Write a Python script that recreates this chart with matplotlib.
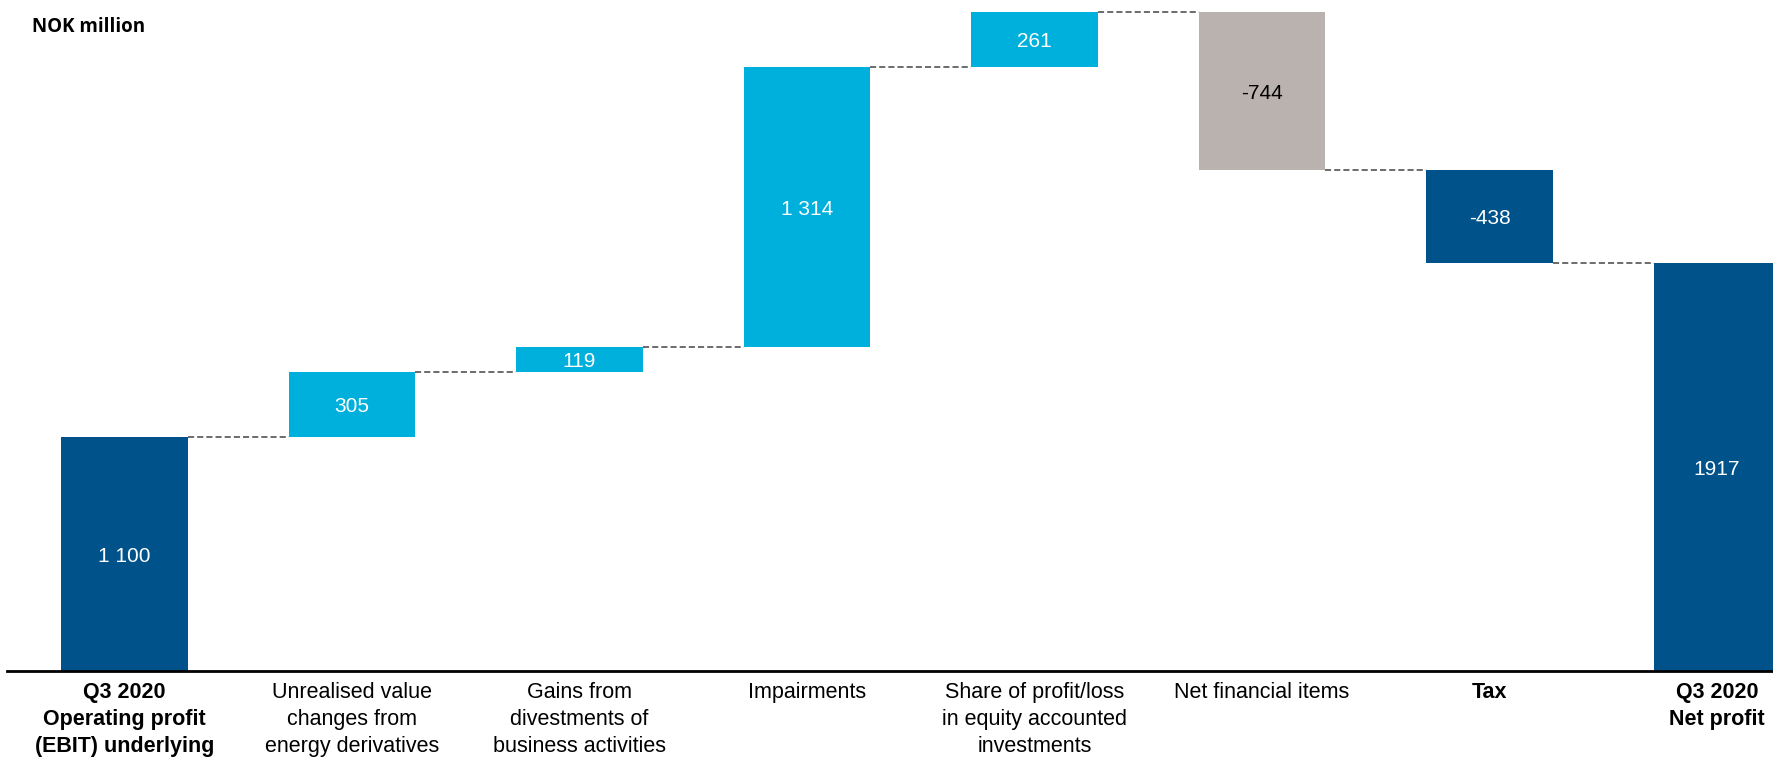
import matplotlib.pyplot as plt
import numpy as np

categories = [
    "Q3 2020\nOperating profit\n(EBIT) underlying",
    "Unrealised value\nchanges from\nenergy derivatives",
    "Gains from\ndivestments of\nbusiness activities",
    "Impairments",
    "Share of profit/loss\nin equity accounted\ninvestments",
    "Net financial items",
    "Tax",
    "Q3 2020\nNet profit",
]
values = [1100, 305, 119, 1314, 261, -744, -438, 1917]
value_labels = ["1 100", "305", "119", "1 314", "261", "-744", "-438", "1917"]
is_total = [True, False, False, False, False, False, False, True]
bold_label = [True, False, False, False, False, False, True, True]

dark_blue = "#00528A"
light_blue = "#00B0DC"
grey = "#BAB2AF"
bar_colors = [dark_blue, light_blue, light_blue, light_blue, light_blue, grey, dark_blue, dark_blue]
text_colors = ["white", "white", "white", "white", "white", "black", "white", "white"]

plt.rcParams["font.family"] = ["Liberation Sans", "DejaVu Sans"]

fig = plt.figure(figsize=(17.74, 7.6), dpi=100)
ax = fig.add_axes([7 / 1774, 89 / 760, 1 - 7 / 1774, 671 / 760])

x = np.arange(len(values))
width = 0.557

# running totals for the floating bars
bottoms = []
tops = []
running = 0
for v, tot in zip(values, is_total):
    if tot:
        bottoms.append(0)
        tops.append(v)
        running = v
    else:
        start = running
        running += v
        bottoms.append(min(start, running))
        tops.append(max(start, running))
bottoms = np.array(bottoms)
heights = np.array(tops) - bottoms

ax.bar(x, heights, bottom=bottoms, width=width, color=bar_colors, zorder=2)

# connector lines between consecutive bars
level = 0
for i, (v, tot) in enumerate(zip(values, is_total)):
    level = v if tot else level + v
    if i < len(values) - 1:
        ax.plot([x[i] + width / 2, x[i + 1] - width / 2], [level, level],
                color="#444444", lw=1.1, ls=(0, (4, 2)), zorder=1)

for i in range(len(values)):
    ax.text(x[i], bottoms[i] + heights[i] / 2, value_labels[i], ha="center", va="center_baseline",
            fontsize=15, color=text_colors[i])

ax.set_xlim(-0.516, 7.25)
ax.set_ylim(0, 3155)
for s in ["top", "right", "left"]:
    ax.spines[s].set_visible(False)
ax.spines["bottom"].set_linewidth(2)
ax.spines["bottom"].set_color("black")
ax.set_yticks([])
ax.set_xticks([])

for i, lab in enumerate(categories):
    ax.annotate(lab, xy=(x[i], 0), xycoords="data", xytext=(0, -8), textcoords="offset points",
                ha="center", va="top", fontsize=15.5, linespacing=1.38,
                fontweight="bold" if bold_label[i] else "normal",
                family=["Liberation Sans Narrow", "Liberation Sans", "DejaVu Sans"],
                annotation_clip=False)

fig.text(32 / 1774, 1 - 32 / 760, "NOK million", fontsize=13.5, fontweight="bold",
         family=["Open Sans", "DejaVu Sans"], ha="left", va="baseline")

fig.savefig("out.png", dpi=100)
